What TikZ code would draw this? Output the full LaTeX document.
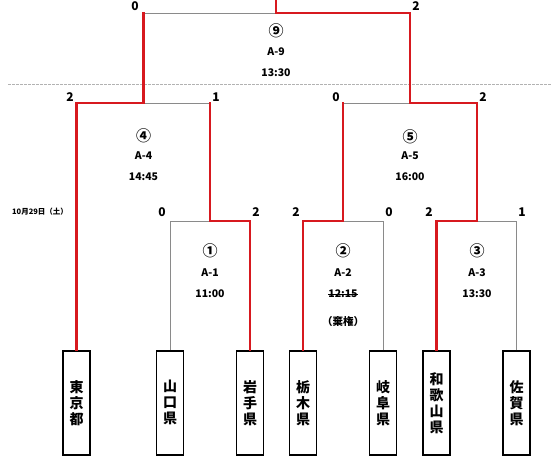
\documentclass[tikz,border=0pt]{standalone}
\usepackage{fontspec}
\setmainfont{Noto Sans CJK JP}
\definecolor{winred}{HTML}{D7191F}
\definecolor{losegray}{HTML}{8A8A8A}
\tikzset{
  team/.style={draw=black, line width=1.6pt, minimum width=27pt, minimum height=104pt, anchor=north, inner sep=0pt, align=center, font=\bfseries\fontsize{14}{16}\selectfont},
  win/.style={draw=winred, line width=2.6pt, line cap=rect},
  lose/.style={draw=losegray, line width=0.8pt},
  score/.style={font=\bfseries\fontsize{12}{12}\selectfont, inner sep=0pt},
  info/.style={font=\bfseries\fontsize{10.5}{11}\selectfont, inner sep=0pt},
  circ/.style={font=\bfseries\fontsize{15}{15}\selectfont, inner sep=0pt},
  datelbl/.style={font=\bfseries\fontsize{7.5}{8}\selectfont, inner sep=0pt}
}
\begin{document}
\begin{tikzpicture}[x=1pt,y=-1pt]
\useasboundingbox (0,0) rectangle (551,459);
% teams
\node[team] (tokyo) at (76.5,350) {東\\京\\都};
\node[team] (yamaguchi) at (170,350) {山\\口\\県};
\node[team] (iwate) at (250,350) {岩\\手\\県};
\node[team] (tochigi) at (303,350) {栃\\木\\県};
\node[team] (gifu) at (383,350) {岐\\阜\\県};
\node[team] (wakayama) at (436.5,350) {和\\歌\\山\\県};
\node[team] (saga) at (516.5,350) {佐\\賀\\県};
% bracket corners
\coordinate (top) at (276,0);
\coordinate (f) at (276,13);
\coordinate (fl) at (143.5,13);
\coordinate (fr) at (410,13);
\coordinate (m4l) at (76.5,103);
\coordinate (m4) at (143.5,103);
\coordinate (m4r) at (210,103);
\coordinate (m5l) at (343,103);
\coordinate (m5) at (410,103);
\coordinate (m5r) at (477,103);
\coordinate (m1l) at (170,221);
\coordinate (m1) at (210,221);
\coordinate (m1r) at (250,221);
\coordinate (m2l) at (303,221);
\coordinate (m2) at (343,221);
\coordinate (m2r) at (383,221);
\coordinate (m3l) at (436.5,221);
\coordinate (m3) at (477,221);
\coordinate (m3r) at (516.5,221);
% dashed separator
\coordinate (dl) at (8,84);
\coordinate (dr) at (551,84);
\draw[draw=gray!60, line width=0.6pt, dash pattern=on 2.5pt off 1.5pt] (dl) -- (dr);
% losing paths
\draw[lose] (fl) -- (f);
\draw[lose] (m4) -- (m4r);
\draw[lose] (m5l) -- (m5);
\draw[lose] (yamaguchi.north) -- (m1l) -- (m1);
\draw[lose] (gifu.north) -- (m2r) -- (m2);
\draw[lose] (saga.north) -- (m3r) -- (m3);
% winning paths
\draw[win] (top) -- (f) -- (fr) -- (m5) -- (m5r) -- (m3) -- (m3l) -- (wakayama.north);
\draw[win] (fl) -- (m4) -- (m4l) -- (tokyo.north);
\draw[win] (m4r) -- (m1) -- (m1r) -- (iwate.north);
\draw[win] (m5l) -- (m2) -- (m2l) -- (tochigi.north);
% scores
\node[score] (s9l) at (135,6) {0};
\node[score] (s9r) at (416,6) {2};
\node[score] (s4l) at (70,97) {2};
\node[score] (s4r) at (216,97) {1};
\node[score] (s5l) at (336,97) {0};
\node[score] (s5r) at (483,97) {2};
\node[score] (s1l) at (162,212) {0};
\node[score] (s1r) at (256,212) {2};
\node[score] (s2l) at (296,212) {2};
\node[score] (s2r) at (389,212) {0};
\node[score] (s3l) at (429,212) {2};
\node[score] (s3r) at (522,212) {1};
% match info
\node[circ] (n9) at (276,31) {⑨};
\node[info] (c9) at (276,52) {A-9};
\node[info] (t9) at (276,73) {13:30};
\node[circ] (n4) at (143.5,136) {④};
\node[info] (c4) at (143.5,156) {A-4};
\node[info] (t4) at (143.5,177) {14:45};
\node[circ] (n5) at (410,137) {⑤};
\node[info] (c5) at (410,156) {A-5};
\node[info] (t5) at (410,177) {16:00};
\node[circ] (n1) at (210,251) {①};
\node[info] (c1) at (210,273) {A-1};
\node[info] (t1) at (210,294) {11:00};
\node[circ] (n2) at (343,251) {②};
\node[info] (c2) at (343,273) {A-2};
\node[info] (t2) at (343,294) {12:15};
\draw[line width=0.6pt] (t2.west) -- (t2.east);
\node[info] (w2) at (343,321) {（棄権）};
\node[circ] (n3) at (477,251) {③};
\node[info] (c3) at (477,273) {A-3};
\node[info] (t3) at (477,294) {13:30};
% date
\node[datelbl] (date) at (40,212) {10月29日（土）};
\end{tikzpicture}
\end{document}
